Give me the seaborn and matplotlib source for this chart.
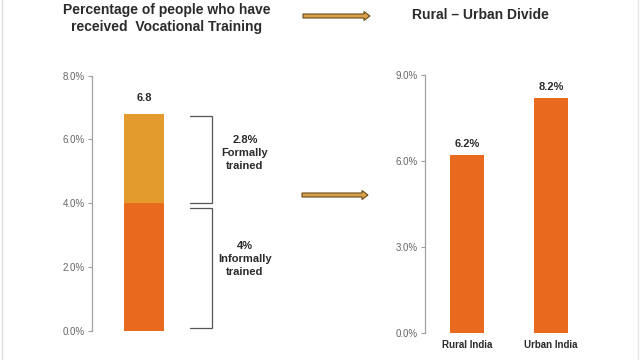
import matplotlib
matplotlib.use("Agg")
import matplotlib.pyplot as plt
import seaborn as sns
import pandas as pd
from matplotlib.patches import FancyArrow
from matplotlib.lines import Line2D
from matplotlib.ticker import FuncFormatter

sns.set_theme(style="white")
plt.rcParams['font.family'] = ['Liberation Sans', 'DejaVu Sans']

# ---- data ----
categories = ["Vocational Training"]
informal = [4.0]
formal = [2.8]
total_label = "6.8"
formal_text = "2.8%\nFormally\ntrained"
informal_text = "4%\nInformally\ntrained"
left_ticks = [0, 2, 4, 6, 8]

regions = ["Rural India", "Urban India"]
region_vals = [6.2, 8.2]
right_ticks = [0, 3, 6, 9]

ORANGE = "#E96A1F"
GOLD = "#E49B2E"
DARK = "#2b2b2b"
GRAY = "#666666"
SPINE = "#a0a0a0"

fig = plt.figure(figsize=(6.4, 3.6), dpi=100)
fig.patch.set_facecolor("white")

pct = FuncFormatter(lambda v, p: f"{v:.1f}%")

def style_axis(ax):
    for s in ["top", "right", "bottom"]:
        ax.spines[s].set_visible(False)
    ax.spines["left"].set_color(SPINE)
    ax.spines["left"].set_linewidth(0.9)
    ax.tick_params(axis="y", which="major", left=True, length=3, width=0.8,
                   color=SPINE, labelsize=7, labelcolor=GRAY, pad=2)
    ax.tick_params(axis="x", which="major", bottom=False, length=0)
    ax.yaxis.set_major_formatter(pct)
    ax.set_xlabel("")
    ax.set_ylabel("")
    ax.grid(False)

# ---- left chart: stacked bar ----
ax1 = fig.add_axes([92/640, (360-330.7)/360, 200/640, 255/360])
totals = [i + f for i, f in zip(informal, formal)]
df_left = pd.DataFrame({"cat": categories, "total": totals, "informal": informal})
sns.barplot(data=df_left, x="cat", y="total", color=GOLD, saturation=1,
            width=0.6, ax=ax1, linewidth=0)
sns.barplot(data=df_left, x="cat", y="informal", color=ORANGE, saturation=1,
            width=0.6, ax=ax1, linewidth=0)
ax1.set_ylim(0, 8)
ax1.set_yticks(left_ticks)
ax1.set_xlim(-0.78, 2.22)
style_axis(ax1)
ax1.set_xticklabels([])
ax1.annotate(total_label, (0, totals[0]), xytext=(0, 8), textcoords="offset points",
             ha="center", va="bottom", fontsize=8, fontweight="bold", color=DARK)

# brackets
bx0, bx1 = 0.69, 1.02
top_hi, top_lo = totals[0] - 0.05, informal[0] + 0.02
low_hi, low_lo = informal[0] - 0.16, 0.09
for hi, lo in [(top_hi, top_lo), (low_hi, low_lo)]:
    ax1.plot([bx0, bx1, bx1, bx0], [hi, hi, lo, lo], color="#555555", lw=0.9,
             solid_joinstyle="miter", clip_on=False)
ax1.text(1.515, 5.57, formal_text, ha="center", va="center", fontsize=8,
         fontweight="bold", color=DARK, linespacing=1.35)
ax1.text(1.515, 2.25, informal_text, ha="center", va="center", fontsize=8,
         fontweight="bold", color=DARK, linespacing=1.35)

# ---- right chart ----
ax2 = fig.add_axes([425/640, (360-332.7)/360, 168/640, 258/360])
df_right = pd.DataFrame({"region": regions, "value": region_vals})
sns.barplot(data=df_right, x="region", y="value", color=ORANGE, saturation=1,
            width=0.4, ax=ax2, linewidth=0)
ax2.set_ylim(0, 9)
ax2.set_yticks(right_ticks)
ax2.set_xlim(-0.5, 1.5)
style_axis(ax2)
ax2.tick_params(axis="x", labelsize=7, labelcolor=DARK, pad=5.5, length=0)
for lab in ax2.get_xticklabels():
    lab.set_fontweight("bold")
for i, v in enumerate(region_vals):
    ax2.annotate(f"{v:.1f}%", (i, v), xytext=(0, 4), textcoords="offset points",
                 ha="center", va="bottom", fontsize=8, fontweight="bold", color=DARK)

# ---- titles ----
fig.text(167/640, 1 - 18.5/360, "Percentage of people who have\nreceived  Vocational Training",
         ha="center", va="center", fontsize=10, fontweight="bold", color=DARK,
         linespacing=1.2)
fig.text(480/640, 1 - 15/360, "Rural – Urban Divide", ha="center", va="center",
         fontsize=10, fontweight="bold", color=DARK)

# ---- arrows ----
def arrow(x0, x1, ypx):
    y = 1 - ypx/360
    a = FancyArrow(x0/640, y, (x1 - x0)/640, 0, width=4/360, head_width=9/360,
                   head_length=6/640, length_includes_head=True,
                   transform=fig.transFigure, facecolor="#D9A24A",
                   edgecolor="#6b4a1a", linewidth=0.8)
    fig.add_artist(a)

arrow(303, 370, 16)
arrow(302, 368, 195)

# faint slide borders
fig.add_artist(Line2D([1.5/640, 1.5/640], [0, 1], transform=fig.transFigure,
                      color="#dddddd", lw=1))
fig.add_artist(Line2D([638/640, 638/640], [0, 1], transform=fig.transFigure,
                      color="#e6e6e6", lw=1))

fig.savefig("out.png", dpi=100, facecolor="white")
